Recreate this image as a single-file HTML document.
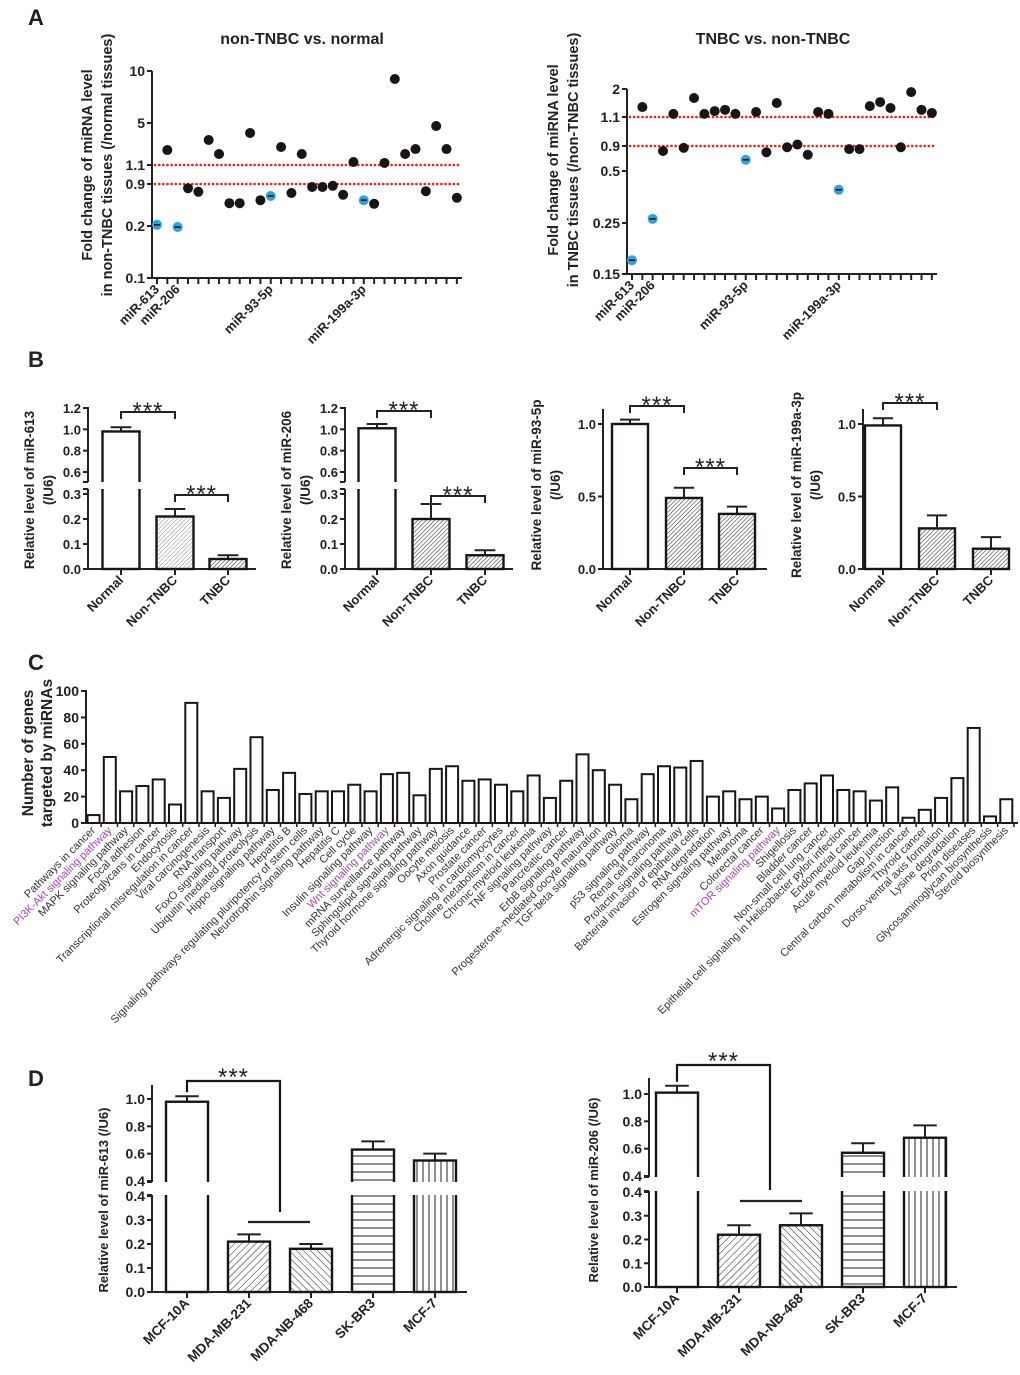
<!DOCTYPE html>
<html><head><meta charset="utf-8"><style>
html,body{margin:0;padding:0;background:#fff}
svg{display:block;font-family:"Liberation Sans",Arial,sans-serif}
</style></head><body>
<svg id="fig" width="1020" height="1375" viewBox="0 0 1020 1375" xmlns="http://www.w3.org/2000/svg">
<defs>
<pattern id="hLight" patternUnits="userSpaceOnUse" width="3" height="3" patternTransform="rotate(45)"><line x1="0" y1="0" x2="0" y2="3" stroke="#8a8a8a" stroke-width="1"/></pattern>
<pattern id="hDark" patternUnits="userSpaceOnUse" width="3" height="3" patternTransform="rotate(45)"><line x1="0" y1="0" x2="0" y2="3" stroke="#333" stroke-width="1.1"/></pattern>
<pattern id="dFwd" patternUnits="userSpaceOnUse" width="5" height="5" patternTransform="rotate(45)"><line x1="0" y1="0" x2="0" y2="5" stroke="#222" stroke-width="1"/></pattern>
<pattern id="dBack" patternUnits="userSpaceOnUse" width="5" height="5" patternTransform="rotate(-45)"><line x1="0" y1="0" x2="0" y2="5" stroke="#222" stroke-width="1"/></pattern>
<pattern id="dHor" patternUnits="userSpaceOnUse" width="8" height="8"><line x1="0" y1="4" x2="8" y2="4" stroke="#222" stroke-width="1"/></pattern>
<pattern id="dVer" patternUnits="userSpaceOnUse" width="6" height="6"><line x1="3" y1="0" x2="3" y2="6" stroke="#222" stroke-width="1"/></pattern>
</defs>
</svg>
<script>
// ---------- Panel A data ----------
const aTickLabels1 = ["0.1","0.2","0.9","1.1","5","10"];
const aTickVals1 = [0.1,0.2,0.9,1.1,5,10];
const aValues1 = [0.22,2.49,0.198,0.83,0.77,3.42,2.12,0.58,0.58,4.07,0.63,0.70,2.77,0.75,2.12,0.85,0.85,0.87,0.72,1.38,0.63,0.57,1.29,9.23,2.12,2.58,0.78,4.72,2.58,0.67];
const aTickLabels2 = ["0.15","0.25","0.5","0.9","1.1","2"];
const aTickVals2 = [0.15,0.25,0.5,0.9,1.1,2];
const aValues2 = [0.177,1.42,0.27,0.82,1.2,0.87,1.71,1.2,1.29,1.33,1.2,0.68,1.26,0.80,1.55,0.88,0.91,0.76,1.26,1.2,0.41,0.85,0.85,1.45,1.58,1.39,0.88,1.9,1.33,1.23];
const aHighlightIdx = [0,2,11,20];
const aHighlightNames = ["miR-613","miR-206","miR-93-5p","miR-199a-3p"];
const aThresholds = [1.1,0.9];
// ---------- Panel B data ----------
const bCategories = ["Normal","Non-TNBC","TNBC"];
const b1Values = [0.98,0.21,0.04]; const b1Errors = [0.04,0.03,0.015];
const b2Values = [1.01,0.20,0.055]; const b2Errors = [0.04,0.06,0.02];
const b3Values = [1.0,0.49,0.38]; const b3Errors = [0.03,0.07,0.05];
const b4Values = [0.99,0.28,0.14]; const b4Errors = [0.05,0.09,0.08];
const bBrokenLowTicks = ["0.0","0.1","0.2","0.3"];
const bBrokenHighTicks = ["0.6","0.8","1.0","1.2"];
const bLinearTicks = ["0.0","0.5","1.0"];
// ---------- Panel C data ----------
const cCategories = ["Pathways in cancer","PI3K-Akt signaling pathway","MAPK signaling pathway","Focal adhesion","Proteoglycans in cancer","Endocytosis","Transcriptional misregulation in cancer","Viral carcinogenesis","RNA transport","FoxO signaling pathway","Ubiquitin mediated proteolysis","Hippo signaling pathway","Hepatitis B","Signaling pathways regulating pluripotency of stem cells","Neurotrophin signaling pathway","Hepatitis C","Cell cycle","Insulin signaling pathway","Wnt signaling pathway","mRNA surveillance pathway","Sphingolipid signaling pathway","Thyroid hormone signaling pathway","Oocyte meiosis","Axon guidance","Prostate cancer","Adrenergic signaling in cardiomyocytes","Choline metabolism in cancer","Chronic myeloid leukemia","TNF signaling pathway","Pancreatic cancer","ErbB signaling pathway","Progesterone-mediated oocyte maturation","TGF-beta signaling pathway","Glioma","p53 signaling pathway","Renal cell carcinoma","Prolactin signaling pathway","Bacterial invasion of epithelial cells","RNA degradation","Estrogen signaling pathway","Melanoma","Colorectal cancer","mTOR signaling pathway","Shigellosis","Bladder cancer","Non-small cell lung cancer","Epithelial cell signaling in Helicobacter pylori infection","Endometrial cancer","Acute myeloid leukemia","Gap junction","Central carbon metabolism in cancer","Thyroid cancer","Dorso-ventral axis formation","Lysine degradation","Prion diseases","Glycosaminoglycan biosynthesis","Steroid biosynthesis"];
const cValues = [6,50,24,28,33,14,91,24,19,41,65,25,38,22,24,24,29,24,37,38,21,41,43,32,33,29,24,36,19,32,52,40,29,18,37,43,42,47,20,24,18,20,11,25,30,36,25,24,17,27,4,10,19,34,72,5,18];
const cHighlighted = ["PI3K-Akt signaling pathway","Wnt signaling pathway","mTOR signaling pathway"];
const cTicks = [0,20,40,60,80,100];
// ---------- Panel D data ----------
const dCategories = ["MCF-10A","MDA-MB-231","MDA-NB-468","SK-BR3","MCF-7"];
const d1Values = [0.98,0.21,0.18,0.63,0.55]; const d1Errors = [0.04,0.03,0.02,0.06,0.05];
const d2Values = [1.01,0.22,0.26,0.57,0.68]; const d2Errors = [0.05,0.04,0.05,0.07,0.09];
const dLowTicks = ["0.0","0.1","0.2","0.3","0.4"];
const dHighTicks = ["0.4","0.6","0.8","1.0"];

const NS='http://www.w3.org/2000/svg';
const svg=document.getElementById('fig');
function mk(tag,a,parent){const e=document.createElementNS(NS,tag);for(const k in a)e.setAttribute(k,a[k]);(parent||svg).appendChild(e);return e;}
function nm(e,n){


return e;}
function T(x,y,s,o,n){o=o||{};const e=mk('text',Object.assign({x:x,y:y,'font-size':13,'font-weight':'bold',fill:'#222'},o));e.textContent=s;nm(e,n||'label');return e;}
function L(x1,y1,x2,y2,n,w,c){return nm(mk('line',{x1:x1,y1:y1,x2:x2,y2:y2,stroke:c||'#222','stroke-width':w||2}),n||'line');}
function pw(d,r){return v=>{let i=0;while(i<d.length-2&&v>d[i+1])i++;return r[i]+(v-d[i])*(r[i+1]-r[i])/(d[i+1]-d[i]);};}
function rotLabel(x,y,s,fs,n,color,weight){const e=T(x,y,s,{'font-size':fs,'text-anchor':'end',transform:'rotate(-45 '+x+' '+y+')',fill:color||'#222','font-weight':weight||'bold'},n);return e;}
function stars(x,y){return T(x,y,'***',{'font-size':24,'text-anchor':'middle','font-weight':'normal','letter-spacing':'1'},'significance-stars');}

// panel letters
T(28,25,'A',{'font-size':22},'panel-label-a');
T(28,367,'B',{'font-size':22},'panel-label-b');
T(28,670,'C',{'font-size':22},'panel-label-c');
T(28,1086,'D',{'font-size':22},'panel-label-d');

// ---------- Panel A ----------
function scatter(cfg,vals,tv,tl){
  const y=pw(tv,cfg.tickPos);
  const xs=i=>cfg.x0+i*cfg.step;
  L(cfg.ax,cfg.tickPos[cfg.tickPos.length-1],cfg.ax,cfg.tickPos[0],'y-axis',2);
  L(cfg.ax,cfg.tickPos[0],cfg.xEnd,cfg.tickPos[0],'x-axis',2);
  tv.forEach((v,i)=>{L(cfg.ax-5,y(v),cfg.ax,y(v),'y-tick',2);T(cfg.ax-7,y(v)+5,tl[i],{'font-size':14,'text-anchor':'end'},'y-tick-label');});
  vals.forEach((v,i)=>L(xs(i),cfg.tickPos[0],xs(i),cfg.tickPos[0]+6,'x-tick',2));
  aThresholds.forEach(t=>nm(mk('line',{x1:cfg.ax+3,y1:y(t),x2:cfg.xEnd,y2:y(t),stroke:'#e8231f','stroke-width':2.6,'stroke-dasharray':'0.1 4.05','stroke-linecap':'round'}),'threshold-line'));
  vals.forEach((v,i)=>{
    const hl=aHighlightIdx.indexOf(i)>=0;
    nm(mk('circle',{cx:xs(i),cy:y(v),r:5,fill:hl?'#2ea3dd':'#1a1414'}),hl?'highlight-point':'data-point');
    if(hl)L(xs(i)-3,y(v),xs(i)+3,y(v),'point-mark',1.6,'#111');
  });
  aHighlightIdx.forEach((idx,k)=>rotLabel(xs(idx)+3,cfg.tickPos[0]+12,aHighlightNames[k],13,'x-tick-label'));
  T(cfg.titleX,44,cfg.title,{'font-size':16,'text-anchor':'middle'},'chart-title');
  cfg.ylab.forEach((s,k)=>T(cfg.ylx[k],cfg.yly,s,{'font-size':14.5,'text-anchor':'middle',transform:'rotate(-90 '+cfg.ylx[k]+' '+cfg.yly+')'},'y-axis-title'));
}
scatter({ax:152,xEnd:462,x0:157,step:10.34,tickPos:[278,226,184,165,123,71],title:'non-TNBC vs. normal',titleX:302,ylab:['Fold change of miRNA level','in non-TNBC tissues (/normal tissues)'],ylx:[92,112],yly:165},aValues1,aTickVals1,aTickLabels1);
scatter({ax:627,xEnd:937,x0:632,step:10.34,tickPos:[274,223,171,146,117,89],title:'TNBC vs. non-TNBC',titleX:773,ylab:['Fold change of miRNA level','in TNBC tissues (/non-TNBC tissues)'],ylx:[558,578],yly:160},aValues2,aTickVals2,aTickLabels2);

// ---------- Bar helper (B and D) ----------
function barChart(cfg,cats,vals,errs){
  const y=cfg.y;
  const base=cfg.base;
  L(cfg.ax,base,cfg.ax,cfg.top,'y-axis',2);
  L(cfg.ax,base,cfg.xEnd,base,'x-axis',2);
  vals.forEach((v,i)=>{
    const c=cfg.centers[i],w=cfg.w,yt=y(v),ye=y(v+errs[i]);
    L(c,yt,c,ye,'error-bar',2);L(c-w*0.28,ye,c+w*0.28,ye,'error-cap',2);
    nm(mk('rect',{x:c-w/2,y:yt,width:w,height:base-yt,fill:cfg.fills[i],stroke:'#1a1414','stroke-width':2.4}),'bar-'+cats[i].toLowerCase());
    L(c,base,c,base+6,'x-tick',2);
    rotLabel(c+3,base+cfg.labDy,cats[i],cfg.labFs,'x-tick-label');
  });
  if(cfg.gap){nm(mk('rect',{x:cfg.ax-4,y:cfg.gap[0],width:cfg.xEnd-cfg.ax+6,height:cfg.gap[1]-cfg.gap[0],fill:'#fff'}),'axis-break');
    L(cfg.ax-5,cfg.gap[0],cfg.ax,cfg.gap[0],'break-tick',2);L(cfg.ax-5,cfg.gap[1],cfg.ax,cfg.gap[1],'break-tick',2);}
  cfg.ticks.forEach(t=>{const yy=cfg.tickY(t.v);L(cfg.ax-5,yy,cfg.ax,yy,'y-tick',2);T(cfg.ax-7,yy+5,t.s,{'font-size':cfg.tfs,'text-anchor':'end'},'y-tick-label');});
  (cfg.brackets||[]).forEach(b=>{const x1=cfg.centers[b[0]],x2=cfg.centers[b[1]];
    L(x1,b[2],x2,b[2],'significance-bracket',2);L(x1,b[2]-1,x1,b[2]+7,'bracket-end',2);L(x2,b[2]-1,x2,b[2]+7,'bracket-end',2);
    stars((x1+x2)/2,b[2]+7);});
  cfg.ylab.forEach((s,k)=>T(cfg.ylx[k],cfg.yly,s,{'font-size':cfg.ylfs,'text-anchor':'middle',transform:'rotate(-90 '+cfg.ylx[k]+' '+cfg.yly+')'},'y-axis-title'));
}
function brokenScale(lowD,lowR,highD,highR){const lo=pw(lowD,lowR),hi=pw(highD,highR);return v=>v<=lowD[1]?lo(v):hi(v);}

const bBrokenTicksFor=()=>bBrokenLowTicks.map(s=>({v:parseFloat(s),s:s})).concat(bBrokenHighTicks.map(s=>({v:parseFloat(s),s:s})));
[[88,256,[121,175,228],b1Values,b1Errors,'miR-613',['#fff','url(#hLight)','url(#hDark)'],[[0,1,412],[1,2,495]]],
 [345,513,[377,431,485],b2Values,b2Errors,'miR-206',['#fff','url(#hDark)','url(#hDark)'],[[0,1,411],[1,2,496]]]].forEach(p=>{
  const ys=brokenScale([0,0.3],[569,494],[0.3,1.2],[504,408]);
  barChart({ax:p[0],xEnd:p[1],centers:p[2],w:37,base:569,top:407,y:ys,tickY:ys,gap:[482,489],ticks:bBrokenTicksFor(),tfs:13,fills:p[6],labDy:12,labFs:13,brackets:p[7],
    ylab:['Relative level of '+p[5],'(/U6)'],ylx:[p[0]-54,p[0]-35],yly:490,ylfs:13.5},bCategories,p[3],p[4]);
});
[[603,767,[630,684,737],b3Values,b3Errors,'miR-93-5p',[[0,1,406],[1,2,468]]],
 [863,1010,[883,937,991],b4Values,b4Errors,'miR-199a-3p',[[0,1,403]]]].forEach(p=>{
  const ys=pw([0,1],[569,424]);
  barChart({ax:p[0],xEnd:p[1],centers:p[2],w:36,base:569,top:409,y:ys,tickY:ys,ticks:bLinearTicks.map(s=>({v:parseFloat(s),s:s})),tfs:13,fills:['#fff','url(#hDark)','url(#hDark)'],labDy:12,labFs:13,brackets:p[6],
    ylab:['Relative level of '+p[5],'(/U6)'],ylx:[p[0]-62,p[0]-43],yly:485,ylfs:13.5},bCategories,p[3],p[4]);
});

// ---------- Panel C ----------
(function(){
  const ax=86,base=823,step=16.3,w=12;
  const y=pw([0,100],[823,691]);
  const xs=i=>ax+7+step*i;
  L(ax,base,ax,690,'y-axis',2);L(ax,base,1018,base,'x-axis',2);
  cTicks.forEach(t=>{L(ax-5,y(t),ax,y(t),'y-tick',2);T(ax-7,y(t)+5,String(t),{'font-size':14,'text-anchor':'end'},'y-tick-label');});
  cValues.forEach((v,i)=>{
    nm(mk('rect',{x:xs(i)-w/2+0.5,y:y(v),width:w,height:base-y(v),fill:'#fff',stroke:'#1a1414','stroke-width':2}),'bar-pathway');
    L(xs(i)+step/2,base,xs(i)+step/2,base+4,'x-tick',1.5);
    const hl=cHighlighted.indexOf(cCategories[i])>=0;
    rotLabel(xs(i)+3,base+8,cCategories[i],11,'x-tick-label',hl?'#a447b0':'#333','normal');
  });
  T(33,753,'Number of genes',{'font-size':15.5,'text-anchor':'middle',transform:'rotate(-90 33 753)'},'y-axis-title');
  T(52,753,'targeted by miRNAs',{'font-size':15.5,'text-anchor':'middle',transform:'rotate(-90 52 753)'},'y-axis-title');
})();

// ---------- Panel D ----------
function dChart(cfg,vals,errs){
  const ys=brokenScale([0,0.4],[cfg.base,cfg.l4],[0.4,1.0],[cfg.u4,cfg.u10]);
  const lo=pw([0,0.4],[cfg.base,cfg.l4]),hi=pw([0.4,1.0],[cfg.u4,cfg.u10]);
  const ticks=dLowTicks.map(s=>({v:parseFloat(s),s:s,f:lo})).concat(dHighTicks.map(s=>({v:parseFloat(s),s:s,f:hi})));
  barChart({ax:cfg.ax,xEnd:cfg.xEnd,centers:cfg.centers,w:42,base:cfg.base,top:cfg.top,y:ys,tickY:v=>v,gap:[cfg.u4+1,cfg.l4-1],ticks:[],tfs:14,
    fills:['#fff','url(#dFwd)','url(#dBack)','url(#dHor)','url(#dVer)'],labDy:12,labFs:13.5,ylab:[cfg.ylab],ylx:[cfg.ylx],yly:cfg.yly,ylfs:13},dCategories,vals,errs);
  ticks.forEach(t=>{const yy=t.f(t.v);L(cfg.ax-5,yy,cfg.ax,yy,'y-tick',2);T(cfg.ax-7,yy+5,t.s,{'font-size':14,'text-anchor':'end'},'y-tick-label');});
  const c0=cfg.centers[0];
  nm(mk('path',{d:'M'+c0+' '+(ys(vals[0]+errs[0])-4)+' V'+cfg.br[0]+' H'+cfg.br[1]+' V'+cfg.br[2],fill:'none',stroke:'#1a1414','stroke-width':2.2}),'significance-bracket');
  L(cfg.hl[0],cfg.hl[2],cfg.hl[1],cfg.hl[2],'group-line',2.2);
  stars((c0+cfg.br[1])/2,cfg.br[0]+4);
}
dChart({ax:152,xEnd:467,centers:[187,249,311,373,435],base:1292,l4:1196,u4:1181,u10:1099,top:1085,br:[1081,280,1212],hl:[248,310,1222],ylab:'Relative level of miR-613 (/U6)',ylx:108,yly:1200},d1Values,d1Errors);
dChart({ax:649,xEnd:957,centers:[677,739,801,863,925],base:1287,l4:1192,u4:1176,u10:1094,top:1078,br:[1065,770,1190],hl:[740,802,1201],ylab:'Relative level of miR-206 (/U6)',ylx:598,yly:1190},d2Values,d2Errors);
</script>
</body></html>
